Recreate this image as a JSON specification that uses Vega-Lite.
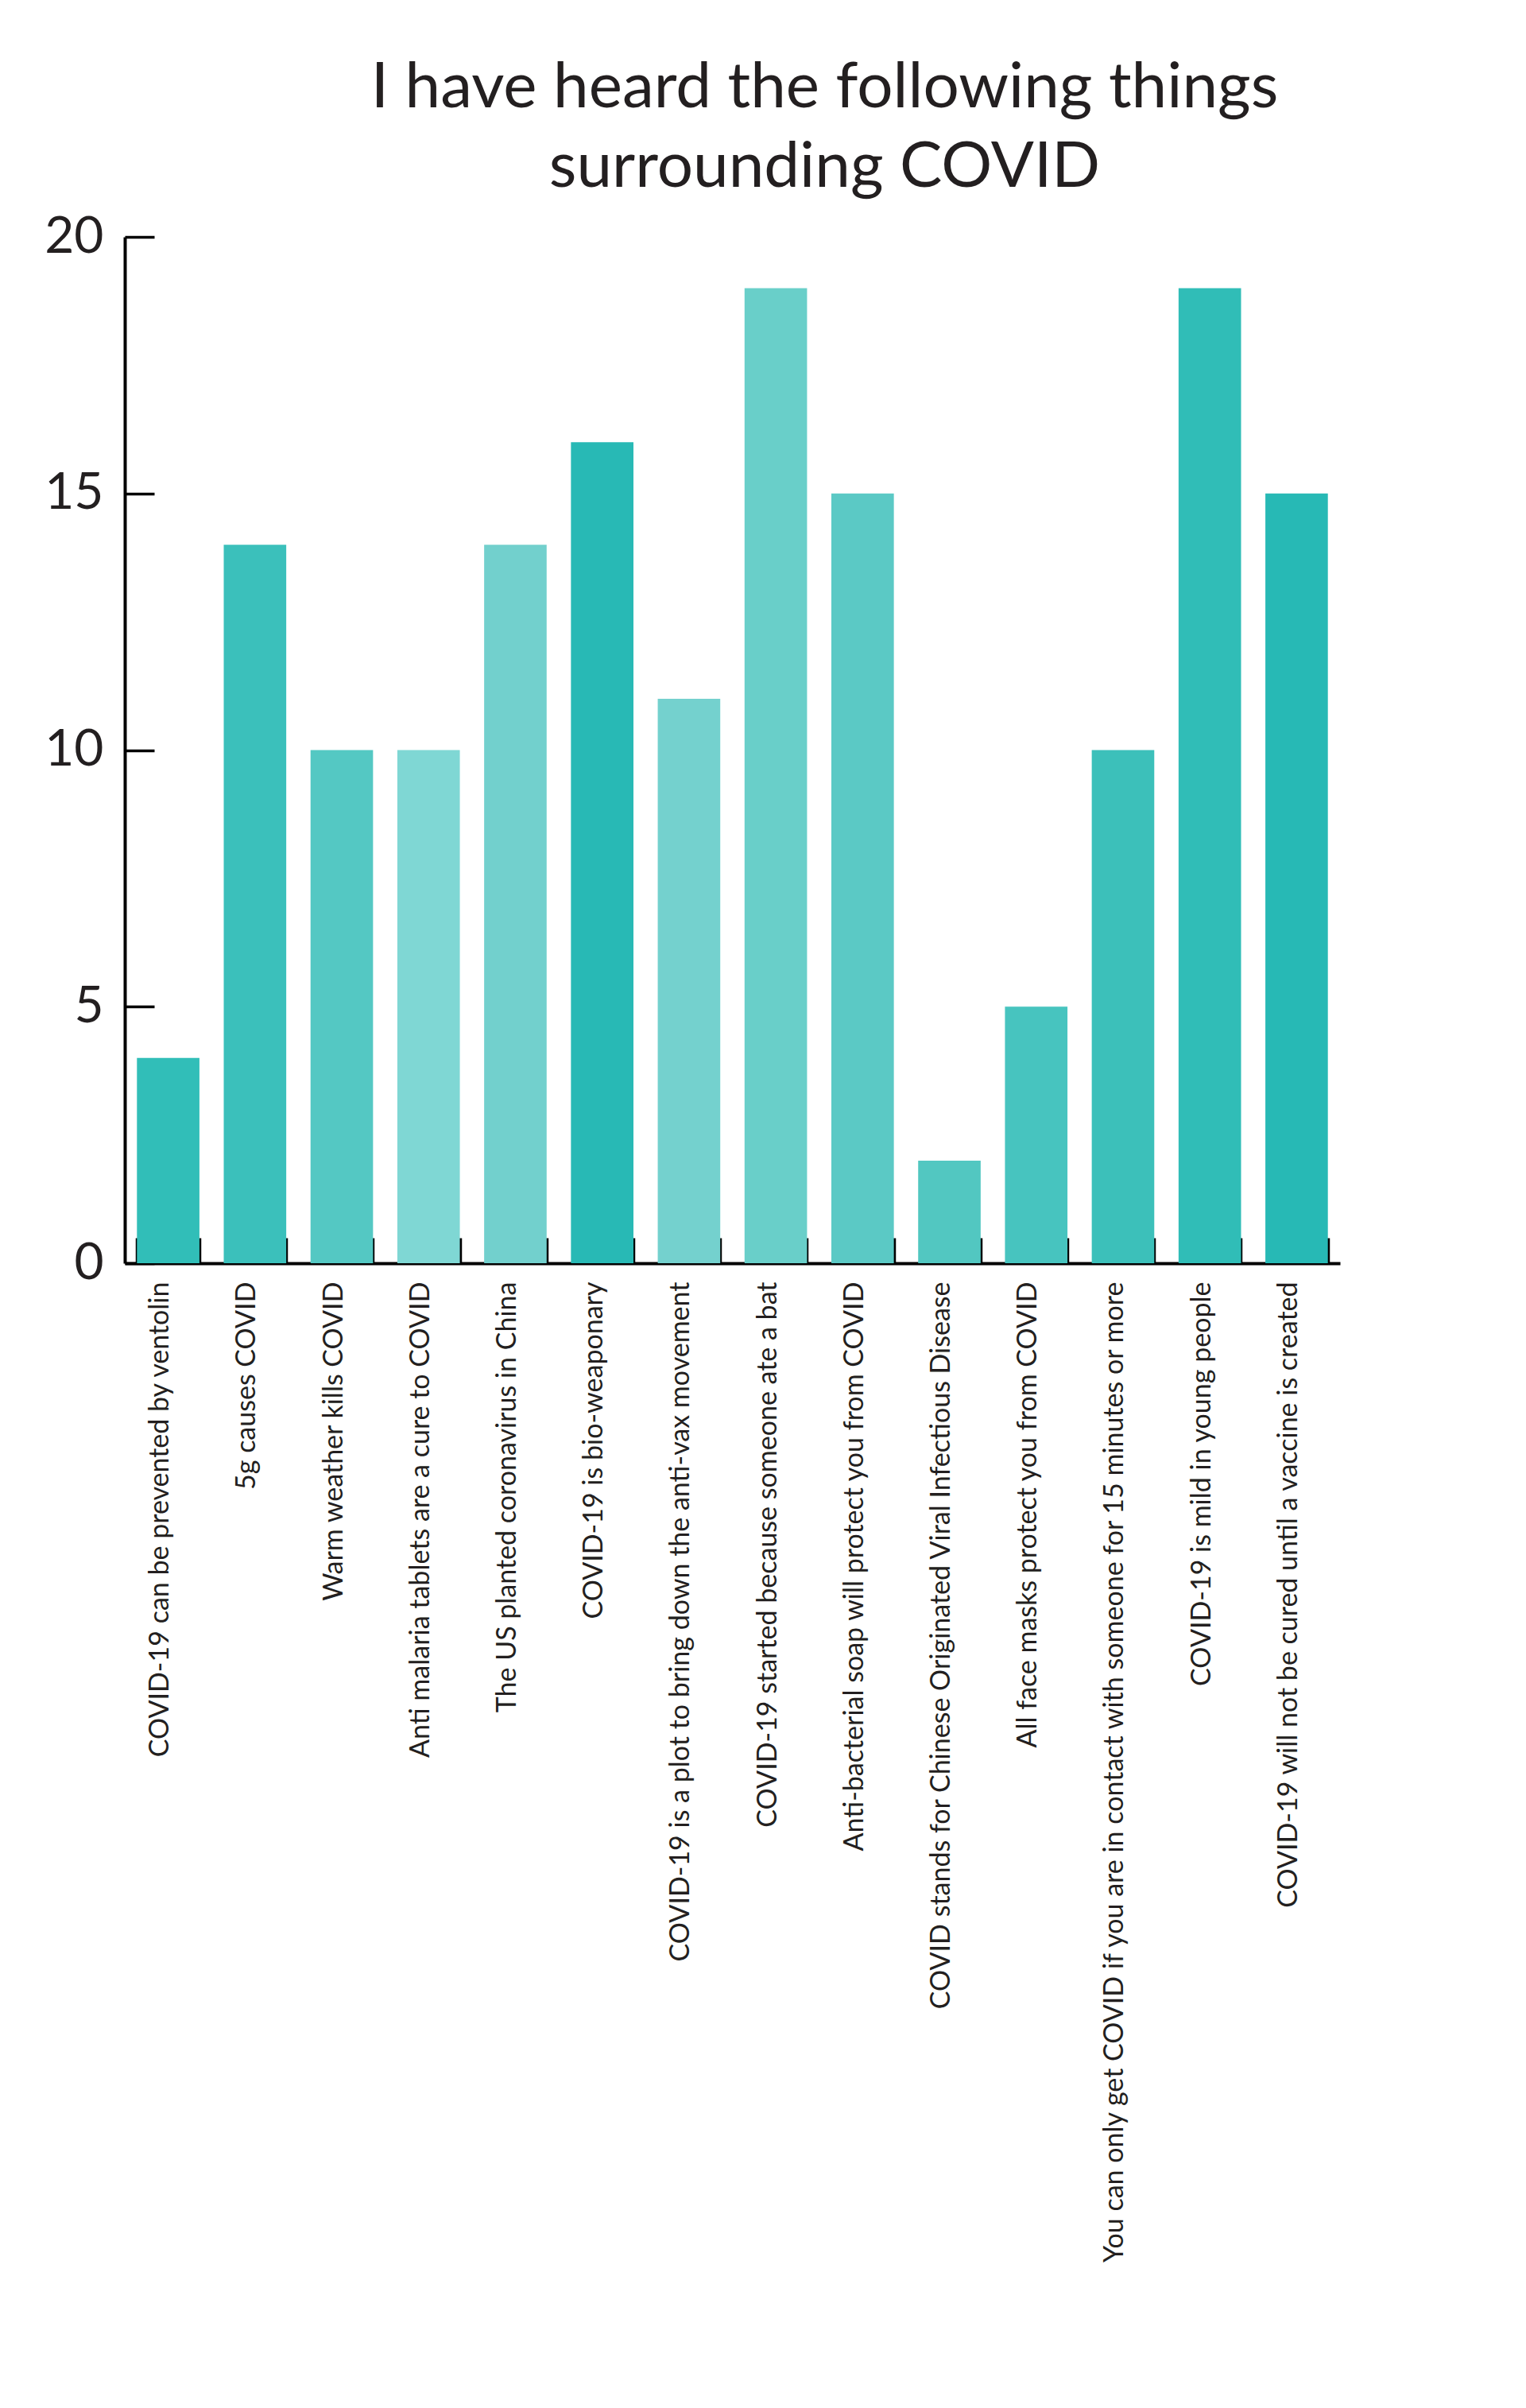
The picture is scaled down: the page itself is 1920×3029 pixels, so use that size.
{
  "$schema": "https://vega.github.io/schema/vega-lite/v6.json",
  "autosize": "none",
  "width": 1529,
  "height": 1291,
  "padding": {"left": 157, "top": 298, "right": 234, "bottom": 1440},
  "background": "white",
  "config": {"view": {"stroke": null}, "font": "Lato"},
  "title": {
    "text": ["I have heard the following things", "surrounding COVID"],
    "font": "Lato",
    "fontSize": 80,
    "fontWeight": "normal",
    "color": "#231f20",
    "anchor": "middle",
    "frame": "group",
    "dx": 116,
    "lineHeight": 100,
    "offset": 14
  },
  "data": {
    "values": [
      {"statement": "COVID-19 can be prevented by ventolin", "count": 4},
      {"statement": "5g causes COVID", "count": 14},
      {"statement": "Warm weather kills COVID", "count": 10},
      {"statement": "Anti malaria tablets are a cure to COVID", "count": 10},
      {"statement": "The US planted coronavirus in China", "count": 14},
      {"statement": "COVID-19 is bio-weaponary", "count": 16},
      {"statement": "COVID-19 is a plot to bring down the anti-vax movement", "count": 11},
      {"statement": "COVID-19 started because someone ate a bat", "count": 19},
      {"statement": "Anti-bacterial soap will protect you from COVID", "count": 15},
      {"statement": "COVID stands for Chinese Originated Viral Infectious Disease", "count": 2},
      {"statement": "All face masks protect you from COVID", "count": 5},
      {"statement": "You can only get COVID if you are in contact with someone for 15 minutes or more", "count": 10},
      {"statement": "COVID-19 is mild in young people", "count": 19},
      {"statement": "COVID-19 will not be cured until a vaccine is created", "count": 15}
    ]
  },
  "mark": {"type": "bar"},
  "encoding": {
    "x": {
      "field": "statement",
      "type": "nominal",
      "sort": null,
      "scale": {"paddingInner": 0.28, "paddingOuter": 0.14},
      "axis": {
        "title": null,
        "domainColor": "#000000",
        "domainWidth": 4,
        "tickColor": "#000000",
        "tickWidth": 3.5,
        "tickSize": -32,
        "tickBand": "extent",
        "labelAngle": -90,
        "labelAlign": "right",
        "labelBaseline": "alphabetic",
        "labelFont": "Lato",
        "labelFontSize": 34,
        "labelColor": "#231f20",
        "labelPadding": 55,
        "labelLimit": 3000,
        "labelOverlap": false
      }
    },
    "y": {
      "field": "count",
      "type": "quantitative",
      "scale": {"domain": [0, 20], "nice": false},
      "axis": {
        "title": null,
        "values": [0, 5, 10, 15, 20],
        "grid": false,
        "domainColor": "#000000",
        "domainWidth": 4,
        "tickColor": "#000000",
        "tickWidth": 3.5,
        "tickSize": -37,
        "labelFont": "Lato",
        "labelFontSize": 64,
        "labelColor": "#231f20",
        "labelPadding": 64
      }
    },
    "color": {
      "field": "statement",
      "type": "nominal",
      "legend": null,
      "scale": {
        "domain": [
          "COVID-19 can be prevented by ventolin",
          "5g causes COVID",
          "Warm weather kills COVID",
          "Anti malaria tablets are a cure to COVID",
          "The US planted coronavirus in China",
          "COVID-19 is bio-weaponary",
          "COVID-19 is a plot to bring down the anti-vax movement",
          "COVID-19 started because someone ate a bat",
          "Anti-bacterial soap will protect you from COVID",
          "COVID stands for Chinese Originated Viral Infectious Disease",
          "All face masks protect you from COVID",
          "You can only get COVID if you are in contact with someone for 15 minutes or more",
          "COVID-19 is mild in young people",
          "COVID-19 will not be cured until a vaccine is created"
        ],
        "range": ["#31BEB8", "#3BC0BB", "#54C8C3", "#7FD7D4", "#72D0CD", "#28B9B5", "#74D1CE", "#69CFC9", "#5BC9C5", "#52C7C1", "#47C4BF", "#3CC0BA", "#30BDB7", "#27B9B5"]
      }
    }
  }
}
